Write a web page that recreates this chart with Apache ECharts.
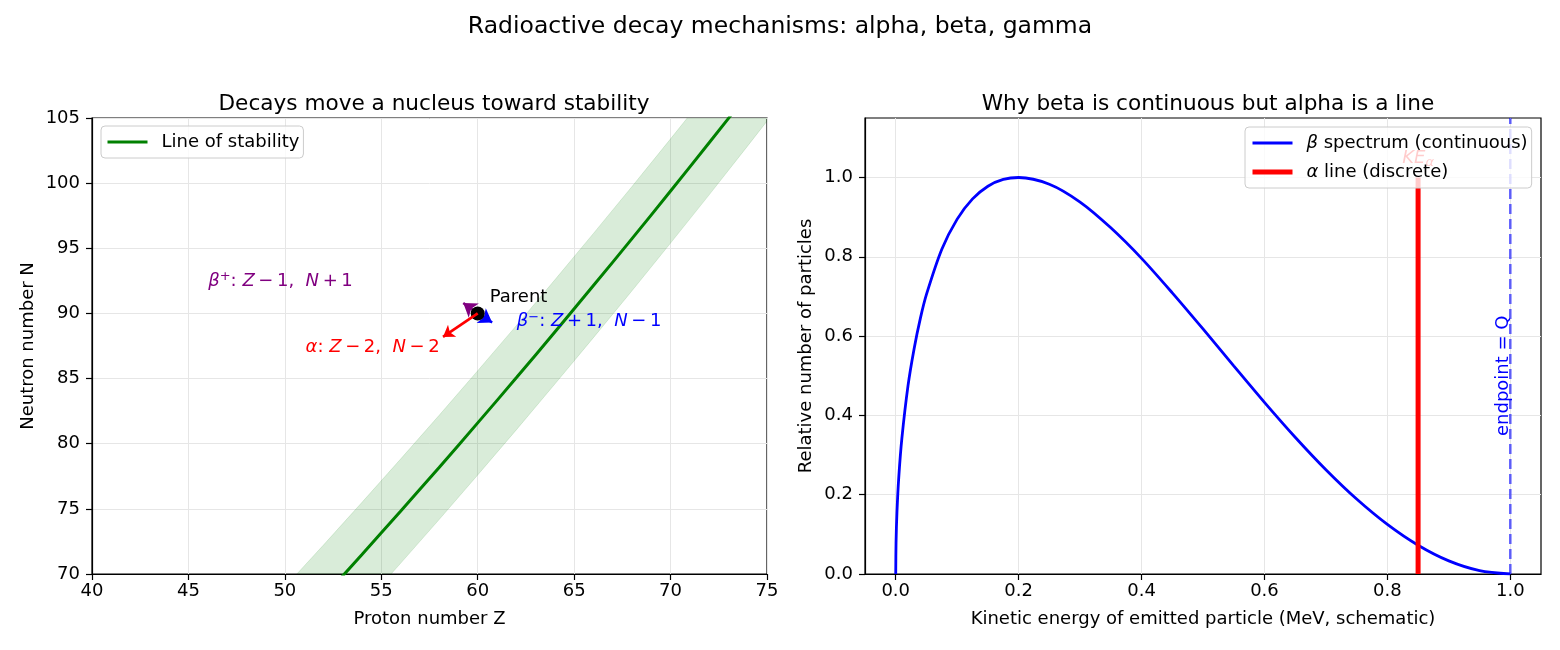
<!DOCTYPE html>
<html>
<head>
<meta charset="utf-8">
<script src="https://cdn.jsdelivr.net/npm/echarts@6/dist/echarts.min.js"></script>
<style>
  html, body { margin: 0; padding: 0; background: #fff; }
  #chart { width: 1560px; height: 650px; }
</style>
</head>
<body>
<div id="chart"></div>
<script>
// ---- left panel: line of stability (Z, N) and the band around it
const stabZ     = [48, 50, 52, 54, 56, 58, 60, 62, 64, 66, 68, 70, 72, 74, 76, 78];
const stabN     = [61.82, 65.0, 68.22, 71.5, 74.82, 78.18, 81.6, 85.06, 88.58, 92.14, 95.74, 99.4, 103.1, 106.86, 110.66, 114.5];
const bandLowN  = [57.82, 61.0, 64.22, 67.5, 70.82, 74.18, 77.6, 81.06, 84.58, 88.14, 91.74, 95.4, 99.1, 102.86, 106.66, 110.5];
const bandHighN = [65.82, 69.0, 72.22, 75.5, 78.82, 82.18, 85.6, 89.06, 92.58, 96.14, 99.74, 103.4, 107.1, 110.86, 114.66, 118.5];
const parent    = [60, 90];
const alphaTip  = [58.2, 88.2];
const bPlusTip  = [59.25, 90.8];
const bMinusTip = [60.75, 89.3];
const zTicks = [40, 45, 50, 55, 60, 65, 70, 75];
const nTicks = [70, 75, 80, 85, 90, 95, 100, 105];

// ---- right panel: beta spectrum, alpha line, endpoint
const betaE = [0, 0.0005, 0.002, 0.005, 0.01, 0.02, 0.03, 0.04, 0.05, 0.075, 0.1, 0.125, 0.15, 0.175, 0.2,
               0.25, 0.3, 0.35, 0.4, 0.45, 0.5, 0.55, 0.6, 0.65, 0.7, 0.75, 0.8, 0.85, 0.9, 0.95, 1.0];
const betaY = [0, 0.078, 0.156, 0.245, 0.342, 0.475, 0.569, 0.644, 0.705, 0.819, 0.895, 0.946, 0.978, 0.995, 1.0,
               0.983, 0.938, 0.873, 0.796, 0.709, 0.618, 0.525, 0.433, 0.345, 0.263, 0.189, 0.125, 0.0725, 0.033, 0.0085, 0];
const alphaE = [0.85, 0.85];
const alphaY = [0, 1.0];
const endE = [1.0, 1.0];
const endY = [0, 1.15];
const eTicks = [0, 0.2, 0.4, 0.6, 0.8, 1.0];
const yTicks = [0, 0.2, 0.4, 0.6, 0.8, 1.0];

const FONT = 'DejaVu Sans';
const pairs = (xs, ys) => xs.map((x, i) => [x, ys[i]]);
const T = '\u2009'; // thin space, mathtext-like spacing

const chart = echarts.init(document.getElementById('chart'));

function axisBase(extra) {
  return Object.assign({
    type: 'value',
    axisLine: { show: true, onZero: false, lineStyle: { color: '#000', width: 1.2 } },
    axisTick: { show: true, length: 6, lineStyle: { color: '#000', width: 1.2 } },
    axisLabel: { color: '#000', fontSize: 18, fontFamily: FONT },
    splitLine: { show: true, lineStyle: { color: '#e6e6e6', width: 1 } },
    nameLocation: 'middle',
    nameTextStyle: { color: '#000', fontSize: 18, fontFamily: FONT }
  }, extra);
}

const mathRich = {
  it: { fontStyle: 'italic', fontSize: 18, fontFamily: FONT },
  sup: { fontSize: 13, fontFamily: FONT, padding: [0, 0, 8, 0] },
  sub: { fontStyle: 'italic', fontSize: 13, fontFamily: FONT, padding: [8, 0, 0, 0] }
};

function textPoint(pos, label, extra) {
  return Object.assign({
    type: 'scatter',
    xAxisIndex: 0, yAxisIndex: 0,
    symbolSize: 1,
    itemStyle: { color: 'rgba(0,0,0,0)' },
    emphasis: { disabled: true },
    silent: true,
    z: 5,
    data: [pos],
    label: Object.assign({
      show: true, position: 'right', distance: 0, opacity: 1,
      fontSize: 18, fontFamily: FONT, rich: mathRich
    }, label)
  }, extra || {});
}

function arrow(tip, color, width, size) {
  return {
    type: 'lines',
    coordinateSystem: 'cartesian2d',
    xAxisIndex: 0, yAxisIndex: 0,
    silent: true,
    z: 4,
    symbol: ['none', 'arrow'],
    symbolSize: size,
    lineStyle: { color: color, width: width, opacity: 1 },
    data: [{ coords: [parent, tip] }]
  };
}

const legendBox = {
  orient: 'vertical', itemWidth: 40, itemHeight: 14, padding: [7, 4, 7, 5],
  backgroundColor: 'rgba(255,255,255,0.8)', borderColor: '#cccccc', borderWidth: 1, borderRadius: 4,
  itemStyle: { opacity: 0 },
  lineStyle: { width: 'inherit' }
};

const it = s => '{it|' + s + '}';

chart.setOption({
  animation: false,
  backgroundColor: '#fff',
  textStyle: { fontFamily: FONT },
  title: [
    { text: 'Radioactive decay mechanisms: alpha, beta, gamma', left: 'center', top: 10,
      textStyle: { fontSize: 23.5, fontWeight: 'normal', color: '#000', fontFamily: FONT } },
    { text: 'Decays move a nucleus toward stability', left: 429, top: 88, textAlign: 'center',
      textStyle: { fontSize: 21.6, fontWeight: 'normal', color: '#000', fontFamily: FONT } },
    { text: 'Why beta is continuous but alpha is a line', left: 1203, top: 88, textAlign: 'center',
      textStyle: { fontSize: 21.6, fontWeight: 'normal', color: '#000', fontFamily: FONT } }
  ],
  grid: [
    { left: 92, top: 118, width: 675, height: 456, show: true, borderColor: '#000', borderWidth: 1.2, backgroundColor: 'transparent' },
    { left: 865, top: 118, width: 676, height: 456, show: true, borderColor: '#000', borderWidth: 1.2, backgroundColor: 'transparent' }
  ],
  xAxis: [
    axisBase({ gridIndex: 0, min: 40, max: 75, interval: 5, name: 'Proton number Z', nameGap: 36,
      axisLabel: { color: '#000', fontSize: 18, fontFamily: FONT, margin: 8, customValues: zTicks },
      axisTick: { show: true, length: 6, lineStyle: { color: '#000', width: 1.2 }, customValues: zTicks } }),
    axisBase({ gridIndex: 1, min: -0.05, max: 1.05, name: 'Kinetic energy of emitted particle (MeV, schematic)', nameGap: 36,
      axisLabel: { color: '#000', fontSize: 18, fontFamily: FONT, margin: 8, customValues: eTicks, formatter: v => v.toFixed(1) },
      axisTick: { show: true, length: 6, lineStyle: { color: '#000', width: 1.2 }, customValues: eTicks } })
  ],
  yAxis: [
    axisBase({ gridIndex: 0, min: 70, max: 105, interval: 5, name: 'Neutron number N', nameGap: 55,
      axisLabel: { color: '#000', fontSize: 18, fontFamily: FONT, margin: 12, customValues: nTicks },
      axisTick: { show: true, length: 6, lineStyle: { color: '#000', width: 1.2 }, customValues: nTicks } }),
    axisBase({ gridIndex: 1, min: 0, max: 1.15, name: 'Relative number of particles', nameGap: 50,
      axisLabel: { color: '#000', fontSize: 18, fontFamily: FONT, margin: 12, customValues: yTicks, formatter: v => v.toFixed(1) },
      axisTick: { show: true, length: 6, lineStyle: { color: '#000', width: 1.2 }, customValues: yTicks } })
  ],
  legend: [
    Object.assign({}, legendBox, {
      data: ['Line of stability'], left: 101, top: 126,
      textStyle: { fontSize: 18, color: '#000', fontFamily: FONT, padding: [0, 0, 0, 9] } }),
    Object.assign({}, legendBox, {
      data: ['beta', 'alpha'], left: 1245, top: 127, itemGap: 11,
      formatter: name => name === 'beta' ? it('β') + ' spectrum (continuous)' : it('α') + ' line (discrete)',
      textStyle: { fontSize: 18, color: '#000', fontFamily: FONT, padding: [0, 0, 0, 9],
        rich: { it: { fontStyle: 'italic', fontSize: 18, fontFamily: FONT } } } })
  ],
  series: [
    // stability band
    {
      type: 'custom', xAxisIndex: 0, yAxisIndex: 0, silent: true, z: 1,
      data: [0],
      renderItem: (params, api) => {
        const pts = [];
        stabZ.forEach((z, i) => pts.push(api.coord([z, bandHighN[i]])));
        for (let i = stabZ.length - 1; i >= 0; i--) pts.push(api.coord([stabZ[i], bandLowN[i]]));
        const cs = params.coordSys;
        return {
          type: 'polygon',
          shape: { points: pts },
          style: { fill: 'rgba(0,128,0,0.15)', stroke: 'rgba(0,128,0,0.12)', lineWidth: 1 },
          clipPath: { type: 'rect', shape: { x: cs.x, y: cs.y, width: cs.width, height: cs.height } }
        };
      }
    },
    {
      name: 'Line of stability', type: 'line', xAxisIndex: 0, yAxisIndex: 0,
      data: pairs(stabZ, stabN), symbol: 'none', smooth: true, z: 3,
      lineStyle: { color: '#008000', width: 3 }, itemStyle: { color: '#008000' }
    },
    arrow(bPlusTip, '#800080', 2.5, 13),
    arrow(bMinusTip, '#0000ff', 2.5, 13),
    {
      type: 'scatter', xAxisIndex: 0, yAxisIndex: 0, silent: true, z: 5,
      data: [parent], symbolSize: 14, itemStyle: { color: '#000', opacity: 1 }
    },
    Object.assign(arrow(alphaTip, '#ff0000', 2.7, 11), { z: 6 }),
    textPoint([60.6, 91.2], { color: '#000', formatter: 'Parent' }),
    textPoint([46.0, 92.5], { color: '#800080',
      formatter: it('β') + '{sup|+}: ' + it('Z') + T + '−' + T + '1,  ' + it('N') + T + '+' + T + '1' }),
    textPoint([51.05, 87.4], { color: '#ff0000',
      formatter: it('α') + ': ' + it('Z') + T + '−' + T + '2,  ' + it('N') + T + '−' + T + '2' }),
    textPoint([62.0, 89.4], { color: '#0000ff',
      formatter: it('β') + '{sup|−}: ' + it('Z') + T + '+' + T + '1,  ' + it('N') + T + '−' + T + '1' }),

    // right panel
    {
      name: 'beta', type: 'line', xAxisIndex: 1, yAxisIndex: 1,
      data: pairs(betaE, betaY), symbol: 'none', smooth: 0.3, z: 3,
      lineStyle: { color: '#0000ff', width: 2.8 }, itemStyle: { color: '#0000ff' }
    },
    {
      name: 'alpha', type: 'line', xAxisIndex: 1, yAxisIndex: 1,
      data: pairs(alphaE, alphaY), symbol: 'none', z: 3,
      lineStyle: { color: '#ff0000', width: 5 }, itemStyle: { color: '#ff0000' }
    },
    {
      type: 'line', xAxisIndex: 1, yAxisIndex: 1, silent: true,
      data: pairs(endE, endY), symbol: 'none', z: 3,
      lineStyle: { color: '#0000ff', width: 2.6, opacity: 0.6, type: [10, 5] }
    },
    textPoint([0.85, 1.02], { position: 'top', color: '#ff0000', formatter: it('KE') + '{sub|α}' },
      { xAxisIndex: 1, yAxisIndex: 1, z: 2 }),
    textPoint([0.988, 0.5], { position: 'inside', rotate: 90, color: '#0000ff', formatter: 'endpoint = Q' },
      { xAxisIndex: 1, yAxisIndex: 1 })
  ]
});
</script>
</body>
</html>
